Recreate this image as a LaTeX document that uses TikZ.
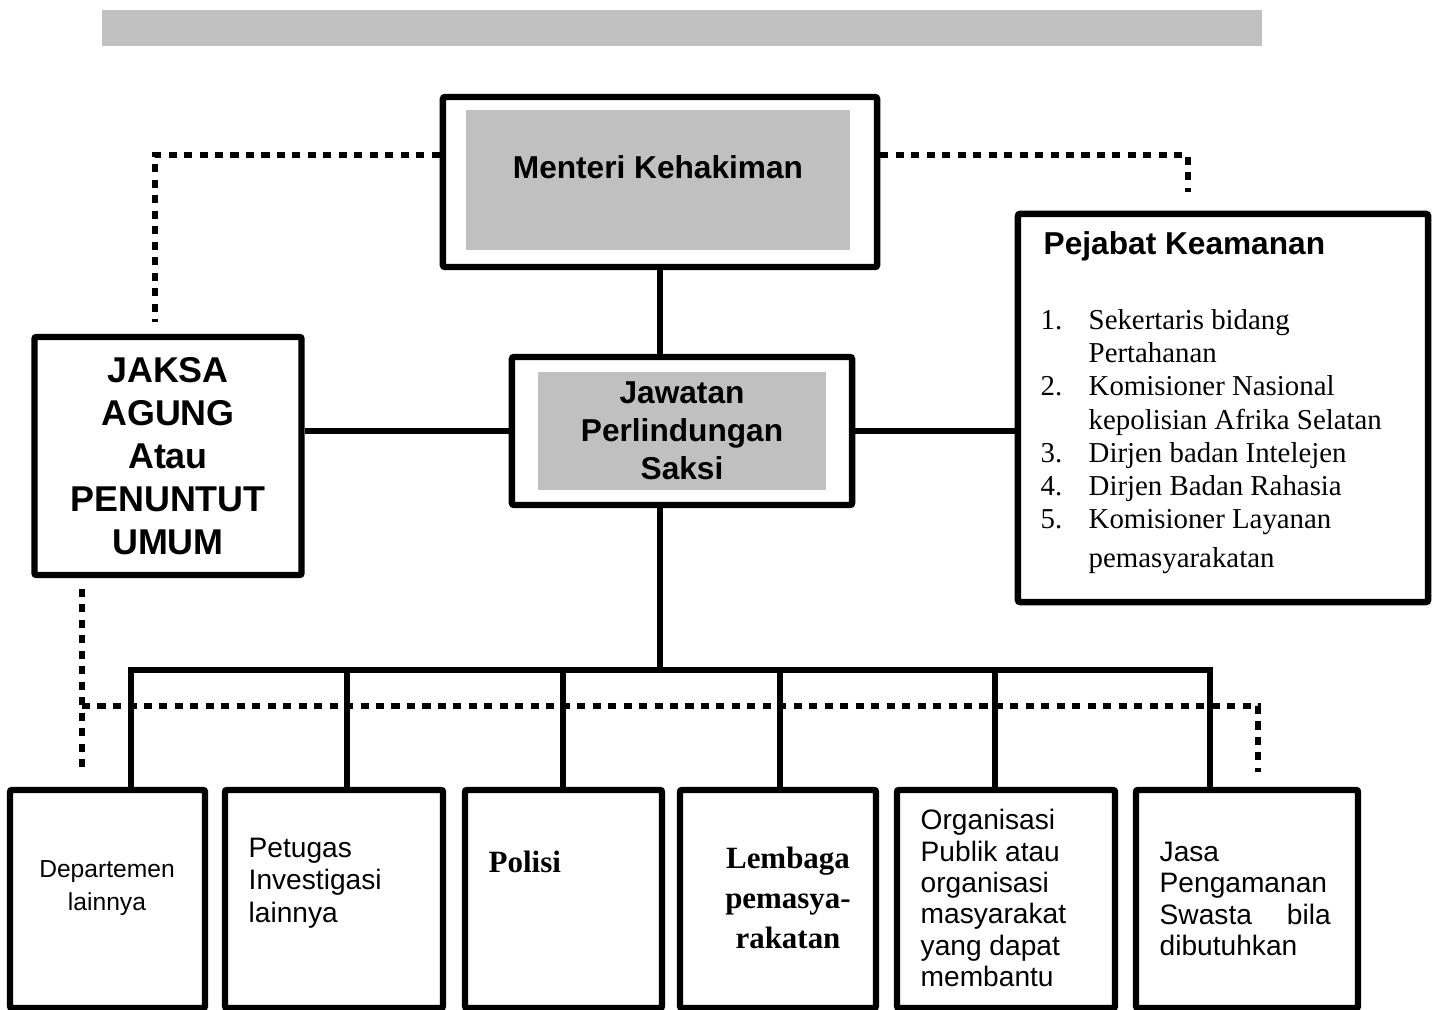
\documentclass[tikz,border=0pt]{standalone}
\usepackage{fontspec}
\setmainfont{Liberation Serif}
\setsansfont{Liberation Sans}
\definecolor{boxgray}{RGB}{192,192,192}

\begin{document}
\begin{tikzpicture}[x=0.01cm, y=-0.01cm,
    box/.style={draw, line width=1.8pt, rounded corners=0.6pt, inner sep=0pt},
    shade/.style={fill=boxgray, inner sep=0pt},
    lbl/.style={inner sep=0pt},
    link/.style={line width=1.5pt},
    dotline/.style={line width=1.7pt, dash pattern=on 2.3pt off 2.1pt}]

    \useasboundingbox (0,0) rectangle (1436,1010);

    % Grey banner on top
    \fill[boxgray] (102,10) rectangle (1262,46);

    % Menteri Kehakiman
    \node[box, minimum width=4.34cm, minimum height=1.70cm] (menteri) at (660,182) {};
    \node[shade, minimum width=3.84cm, minimum height=1.40cm] (menteriin) at (658,180) {};
    \node[lbl, font=\sffamily\bfseries\fontsize{9}{11}\selectfont] (menteritxt) at (658,167) {Menteri Kehakiman};

    % Jaksa Agung and Jawatan Perlindungan Saksi
    \node[box, minimum width=2.67cm, minimum height=2.38cm, align=center,
          font=\sffamily\bfseries\fontsize{10.2}{12.2}\selectfont] (jaksa) at (168,456)
          {JAKSA\\AGUNG\\Atau\\PENUNTUT\\UMUM};
    \node[box, minimum width=3.40cm, minimum height=1.48cm] (jawatan) at (682,431) {};
    \node[shade, minimum width=2.88cm, minimum height=1.17cm, align=center,
          font=\sffamily\bfseries\fontsize{9}{10.8}\selectfont] (jawatanin) at (682,431)
          {Jawatan\\Perlindungan\\Saksi};

    % Pejabat Keamanan with its list
    \node[box, minimum width=4.10cm, minimum height=3.88cm] (pejabat) at (1223,408) {};
    \node[lbl, anchor=west, font=\sffamily\bfseries\fontsize{9}{11}\selectfont] (pejabattxt) at (1043,246) {Pejabat Keamanan};
    \node[lbl, anchor=north west, font=\fontsize{8.2}{9.4}\selectfont] (pejabatlist) at (1040,306) {%
        \begin{tabular}{@{}p{0.48cm}@{}l@{}}
        1. & Sekertaris bidang\\
           & Pertahanan\\
        2. & Komisioner Nasional\\
           & kepolisian Afrika Selatan\\
        3. & Dirjen badan Intelejen\\
        4. & Dirjen Badan Rahasia\\
        5. & Komisioner Layanan\\[1.7pt]
           & pemasyarakatan
        \end{tabular}};

    % Bottom row of boxes
    \node[box, minimum width=1.95cm, minimum height=2.18cm] (dept) at (107.5,899) {};
    \node[box, minimum width=2.18cm, minimum height=2.18cm] (invest) at (334,899) {};
    \node[box, minimum width=1.97cm, minimum height=2.18cm] (polisi) at (563.5,899) {};
    \node[box, minimum width=1.96cm, minimum height=2.18cm] (lembaga) at (778,899) {};
    \node[box, minimum width=2.18cm, minimum height=2.18cm] (org) at (1006,899) {};
    \node[box, minimum width=2.22cm, minimum height=2.18cm] (jasa) at (1247,899) {};

    \node[lbl, align=center, font=\sffamily\fontsize{7}{9.4}\selectfont] (depttxt) at (107,888) {Departemen\\lainnya};
    \node[lbl, anchor=west, align=left, font=\sffamily\fontsize{8}{9.2}\selectfont] (investtxt) at (248,883) {Petugas\\Investigasi\\lainnya};
    \node[lbl, anchor=west, font=\bfseries\fontsize{8.8}{11}\selectfont] (polisitxt) at (488,862) {Polisi};
    \node[lbl, align=center, font=\bfseries\fontsize{8.8}{11.3}\selectfont] (lembagatxt) at (788,898) {Lembaga\\pemasya-\\rakatan};
    \node[lbl, anchor=west, align=left, font=\sffamily\fontsize{8}{8.9}\selectfont] (orgtxt) at (920,898)
        {Organisasi\\Publik atau\\organisasi\\masyarakat\\yang dapat\\membantu};
    \node[lbl, anchor=west, align=left, font=\sffamily\fontsize{8}{8.9}\selectfont] (jasatxt) at (1159,899)
        {Jasa\\Pengamanan\\\makebox[1.71cm][s]{Swasta bila}\\dibutuhkan};

    % Solid connectors
    \draw[link] (menteri.south) -- (menteri.south |- jawatan.north);
    \draw[link] (jawatan.west) -- (jawatan.west -| jaksa.east);
    \draw[link] (jawatan.east) -- (jawatan.east -| pejabat.west);

    \coordinate (bus) at (660,670);
    \coordinate (busL) at (131,670);
    \coordinate (busR) at (1210,670);
    \draw[link] (bus |- jawatan.south) -- (bus);
    \draw[link, line cap=rect] (busL) -- (busR);
    \draw[link] (busL) -- (busL |- dept.north);
    \draw[link] (347,670) coordinate (drop2) -- (drop2 |- invest.north);
    \draw[link] (563,670) coordinate (drop3) -- (drop3 |- polisi.north);
    \draw[link] (780,670) coordinate (drop4) -- (drop4 |- lembaga.north);
    \draw[link] (995,670) coordinate (drop5) -- (drop5 |- org.north);
    \draw[link] (busR) -- (busR |- jasa.north);

    % Dotted connectors
    \coordinate (dotL) at (155,155);
    \coordinate (dotLend) at (155,322);
    \coordinate (dotR) at (1188,155);
    \coordinate (dotRend) at (1188,192);
    \draw[dotline] (menteri.west |- dotL) -- (dotL) -- (dotLend);
    \draw[dotline] (menteri.east |- dotR) -- (dotR) -- (dotRend);

    \coordinate (dotB1) at (82,706);
    \coordinate (dotB2) at (1258,706);
    \coordinate (dotB1end) at (82,772);
    \coordinate (dotB2end) at (1258,772);
    \draw[dotline] ([yshift=-3pt]jaksa.south -| dotB1) -- (dotB1end);
    \draw[dotline] (dotB1) -- (dotB2) -- (dotB2end);

\end{tikzpicture}
\end{document}
